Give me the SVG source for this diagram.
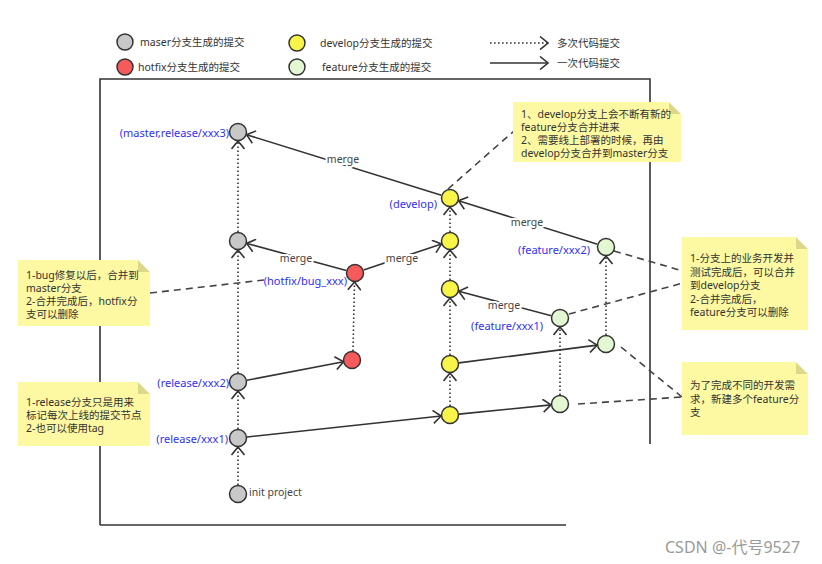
<svg xmlns="http://www.w3.org/2000/svg" width="822" height="564" viewBox="0 0 822 564">
<style>
  text{font-family:"Noto Sans","Noto Sans CJK SC",sans-serif;}
  .n{stroke:#333;stroke-width:1.5;}
  .gray{fill:#c8c8c8;} .yel{fill:#f8f548;} .red{fill:#f75a5a;} .grn{fill:#e2f7d2;}
  .lbl{fill:#3030f5;font-size:11px;}
  .mg{fill:#444;font-size:10.5px;text-anchor:middle;stroke:#fff;stroke-width:4;paint-order:stroke;}
  .leg{fill:#333;font-size:10.5px;}
  .note rect{fill:#fcf9a2;}
  .note text{fill:#333;font-size:10.5px;}
  .sol{stroke:#333;stroke-width:1.6;fill:none;marker-end:url(#ah);}
  .dot{stroke:#333;stroke-width:1.6;fill:none;stroke-dasharray:1.6,2.4;marker-end:url(#ah);}
  .dash{stroke:#444;stroke-width:1.6;fill:none;stroke-dasharray:7,5;}
  .frame{stroke:#333;stroke-width:1.6;fill:none;}
</style>
<defs>
  <marker id="ah" markerUnits="userSpaceOnUse" viewBox="0 0 10 14" refX="9" refY="7" markerWidth="10" markerHeight="14" orient="auto">
    <path d="M1,0.5 L9,7 L1,13.5" fill="none" stroke="#333" stroke-width="1.6"/>
  </marker>
</defs>
<rect width="822" height="564" fill="#fff"/>

<!-- frame -->
<g id="frame">
  <path class="frame" d="M100,525 L100,79 L650,79 L650,444"/>
  <path class="frame" d="M100,525 L566,525"/>
</g>

<!-- legend -->
<g id="legend">
  <circle class="n gray" cx="125" cy="42" r="8"/>
  <text class="leg" x="140" y="46">maser分支生成的提交</text>
  <circle class="n red" cx="125" cy="67" r="8"/>
  <text class="leg" x="138" y="71">hotfix分支生成的提交</text>
  <circle class="n yel" cx="297" cy="43" r="8"/>
  <text class="leg" x="320" y="47">develop分支生成的提交</text>
  <circle class="n grn" cx="297" cy="67" r="8"/>
  <text class="leg" x="322" y="71">feature分支生成的提交</text>
  <path class="dot" d="M490,43 L548,43"/>
  <text class="leg" x="557" y="47">多次代码提交</text>
  <path class="sol" d="M490,63 L548,63"/>
  <text class="leg" x="557" y="67">一次代码提交</text>
</g>

<!-- connectors -->
<g id="connectors">
  <path class="dot" d="M238,485 L238,447"/>
  <path class="dot" d="M238,429 L238,391"/>
  <path class="dot" d="M238,373 L238,250"/>
  <path class="dot" d="M238,232 L238,141"/>
  <path class="dot" d="M353,351 L354.5,282"/>
  <path class="dot" d="M450,406 L450,373"/>
  <path class="dot" d="M450,355 L450,298"/>
  <path class="dot" d="M450,280 L450,250"/>
  <path class="dot" d="M450,232 L450,207"/>
  <path class="dot" d="M560,395 L560,327"/>
  <path class="dot" d="M606,335 L606,256"/>
  <path class="sol" d="M246.9,437 L441.1,416"/>
  <path class="sol" d="M459,414.1 L551,404.9"/>
  <path class="sol" d="M246.8,380.3 L343.5,361.7"/>
  <path class="sol" d="M458.9,362.9 L597.1,345.1"/>
  <path class="sol" d="M346.3,270.6 L246.7,243.4"/>
  <path class="sol" d="M363.5,270.1 L441.5,243.9"/>
  <path class="sol" d="M551.3,315.7 L458.7,291.3"/>
  <path class="sol" d="M597.4,244.3 L458.6,200.7"/>
  <path class="sol" d="M441.4,195.3 L246.6,134.7"/>
  <text class="mg" x="343" y="163">merge</text>
  <text class="mg" x="296" y="262">merge</text>
  <text class="mg" x="402" y="262">merge</text>
  <text class="mg" x="527" y="226">merge</text>
  <text class="mg" x="504" y="309">merge</text>
  <path class="dash" d="M448,189 L514,131"/>
  <path class="dash" d="M150,293 L264,280"/>
  <path class="dash" d="M614,251 L683,271"/>
  <path class="dash" d="M569,314 L683,283"/>
  <path class="dash" d="M578,404 L682,397"/>
  <path class="dash" d="M621,347 L682,397"/>
</g>

<g id="m3"><circle class="n gray" cx="238" cy="132" r="8.5"/><text class="lbl" x="229" y="137" text-anchor="end">(master,release/xxx3)</text></g>
<g id="m2"><circle class="n gray" cx="238" cy="241" r="8.5"/></g>
<g id="r2"><circle class="n gray" cx="238" cy="382" r="8.5"/><text class="lbl" x="229" y="387" text-anchor="end">(release/xxx2)</text></g>
<g id="r1"><circle class="n gray" cx="238" cy="438" r="8.5"/><text class="lbl" x="228" y="443" text-anchor="end">(release/xxx1)</text></g>
<g id="init"><circle class="n gray" cx="238" cy="494" r="8.5"/><text x="249" y="496" fill="#444" font-size="10.5">init project</text></g>

<g id="h2"><circle class="n red" cx="355" cy="273" r="8.5"/><text class="lbl" x="347" y="285" text-anchor="end">(hotfix/bug_xxx)</text></g>
<g id="h1"><circle class="n red" cx="352" cy="360" r="8.5"/></g>

<g id="d4"><circle class="n yel" cx="450" cy="198" r="8.5"/><text class="lbl" x="437" y="208" text-anchor="end">(develop)</text></g>
<g id="d3"><circle class="n yel" cx="450" cy="241" r="8.5"/></g>
<g id="d2"><circle class="n yel" cx="450" cy="289" r="8.5"/></g>
<g id="d1"><circle class="n yel" cx="450" cy="364" r="8.5"/></g>
<g id="d0"><circle class="n yel" cx="450" cy="415" r="8.5"/></g>

<g id="f1"><circle class="n grn" cx="560" cy="318" r="8.5"/><text class="lbl" x="543" y="330" text-anchor="end">(feature/xxx1)</text></g>
<g id="f1b"><circle class="n grn" cx="560" cy="404" r="8.5"/></g>
<g id="f2"><circle class="n grn" cx="606" cy="247" r="8.5"/><text class="lbl" x="590" y="254" text-anchor="end">(feature/xxx2)</text></g>
<g id="f2b"><circle class="n grn" cx="606" cy="344" r="8.5"/></g>

<g id="note-develop" class="note">
  <rect x="513" y="102" width="168" height="60"/>
  <path d="M669,102 L681,114 L669,114 Z" fill="#dcd88a"/>
  <path d="M669,102 L681,102 L681,114 Z" fill="#fff"/>
  <text x="521" y="118">1、develop分支上会不断有新的</text>
  <text x="521" y="131">feature分支合并进来</text>
  <text x="521" y="144">2、需要线上部署的时候，再由</text>
  <text x="521" y="157">develop分支合并到master分支</text>
</g>
<g id="note-hotfix" class="note">
  <rect x="18" y="260" width="132" height="66"/>
  <path d="M138,260 L150,272 L138,272 Z" fill="#dcd88a"/>
  <path d="M138,260 L150,260 L150,272 Z" fill="#fff"/>
  <text x="26" y="279">1-bug修复以后，合并到</text>
  <text x="26" y="292">master分支</text>
  <text x="26" y="305">2-合并完成后，hotfix分</text>
  <text x="26" y="318">支可以删除</text>
</g>
<g id="note-release" class="note">
  <rect x="18" y="382" width="132" height="64"/>
  <path d="M138,382 L150,394 L138,394 Z" fill="#dcd88a"/>
  <path d="M138,382 L150,382 L150,394 Z" fill="#fff"/>
  <text x="26" y="406">1-release分支只是用来</text>
  <text x="26" y="419">标记每次上线的提交节点</text>
  <text x="26" y="432">2-也可以使用tag</text>
</g>
<g id="note-feature" class="note">
  <rect x="682" y="237" width="126" height="93"/>
  <path d="M796,237 L808,249 L796,249 Z" fill="#dcd88a"/>
  <path d="M796,237 L808,237 L808,249 Z" fill="#fff"/>
  <text x="690" y="262">1-分支上的业务开发并</text>
  <text x="690" y="275.5">测试完成后，可以合并</text>
  <text x="690" y="289">到develop分支</text>
  <text x="690" y="302.5">2-合并完成后，</text>
  <text x="690" y="316">feature分支可以删除</text>
</g>
<g id="note-new" class="note">
  <rect x="682" y="362" width="126" height="73"/>
  <path d="M796,362 L808,374 L796,374 Z" fill="#dcd88a"/>
  <path d="M796,362 L808,362 L808,374 Z" fill="#fff"/>
  <text x="690" y="389">为了完成不同的开发需</text>
  <text x="690" y="402.5">求，新建多个feature分</text>
  <text x="690" y="416">支</text>
</g>

<text x="665" y="553" fill="#9a9a9a" font-size="16">CSDN @-代号9527</text>
</svg>
